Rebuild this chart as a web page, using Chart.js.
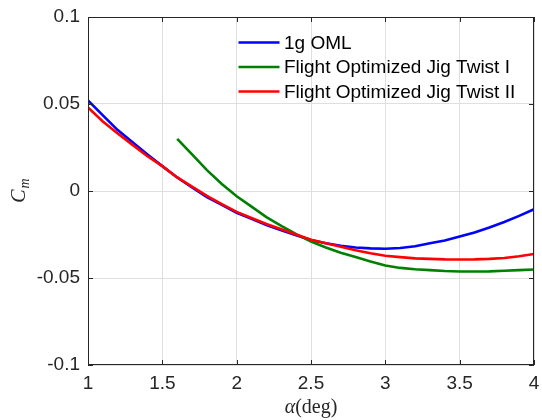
<!DOCTYPE html>
<html><head><meta charset="utf-8">
<script src="https://cdn.jsdelivr.net/npm/chart.js@4.4.1/dist/chart.umd.min.js"></script>
<style>html,body{margin:0;padding:0;background:#fff;}#wrap{width:542px;height:420px;}</style>
</head><body><div id="wrap"><canvas id="c" width="542" height="420"></canvas></div>
<script>
const alphaDeg = [1.0,1.1,1.2,1.3,1.4,1.5,1.6,1.7,1.8,1.9,2.0,2.1,2.2,2.3,2.4,2.5,2.6,2.7,2.8,2.9,3.0,3.1,3.2,3.3,3.4,3.5,3.6,3.7,3.8,3.9,4.0];
const alphaJigI = [1.6,1.7,1.8,1.9,2.0,2.1,2.2,2.3,2.4,2.5,2.6,2.7,2.8,2.9,3.0,3.1,3.2,3.3,3.4,3.5,3.6,3.7,3.8,3.9,4.0];
const cm1gOML = [0.052,0.0435,0.035,0.028,0.021,0.0143,0.0078,0.002,-0.0035,-0.008,-0.0125,-0.016,-0.0195,-0.0225,-0.0255,-0.0282,-0.030,-0.0315,-0.0325,-0.033,-0.0332,-0.0328,-0.0318,-0.030,-0.0285,-0.0262,-0.0238,-0.021,-0.0178,-0.0143,-0.0105];
const cmJigTwistI = [0.030,0.021,0.012,0.004,-0.003,-0.009,-0.015,-0.020,-0.0248,-0.029,-0.0325,-0.0355,-0.038,-0.0405,-0.0428,-0.0442,-0.0450,-0.0455,-0.0460,-0.0463,-0.0463,-0.0462,-0.0458,-0.0455,-0.0451];
const cmJigTwistII = [0.048,0.040,0.033,0.0265,0.020,0.0143,0.0078,0.0025,-0.0028,-0.0075,-0.012,-0.0155,-0.019,-0.022,-0.025,-0.028,-0.030,-0.032,-0.034,-0.0358,-0.0372,-0.038,-0.0387,-0.039,-0.0393,-0.0394,-0.0393,-0.039,-0.0385,-0.0375,-0.0362];
const seriesNames = ['1g OML','Flight Optimized Jig Twist I','Flight Optimized Jig Twist II'];
const seriesColors = ['#0000ff','#008000','#ff0000'];
const xTickValues = [1,1.5,2,2.5,3,3.5,4];
const xTickLabels = ['1','1.5','2','2.5','3','3.5','4'];
const yTickValues = [-0.1,-0.05,0,0.05,0.1];
const yTickLabels = ['-0.1','-0.05','0','0.05','0.1'];

function pts(xs, ys){ return xs.map((x,i)=>({x:x,y:ys[i]})); }
function lbl(vals, labels, v){ const i = vals.findIndex(t=>Math.abs(t-v)<1e-9); return i<0?'':labels[i]; }

const AXC = '#262626';
const LW = 2.6;

const framePlugin = {
  id:'frame',
  afterDraw(chart){
    const ctx = chart.ctx, a = chart.chartArea;
    const xs = chart.scales.x, ys = chart.scales.y;
    ctx.save();
    ctx.strokeStyle = AXC; ctx.lineWidth = 1;
    ctx.strokeRect(Math.round(a.left)+0.5, Math.round(a.top)+0.5, Math.round(a.right-a.left)-1, Math.round(a.bottom-a.top)-1);
    const tl = 5;
    ctx.beginPath();
    xTickValues.forEach(v=>{
      const px = Math.round(xs.getPixelForValue(v))+0.5;
      ctx.moveTo(px, a.bottom); ctx.lineTo(px, a.bottom-tl);
      ctx.moveTo(px, a.top); ctx.lineTo(px, a.top+tl);
    });
    yTickValues.forEach(v=>{
      const py = Math.round(ys.getPixelForValue(v))+0.5;
      ctx.moveTo(a.left, py); ctx.lineTo(a.left+tl, py);
      ctx.moveTo(a.right, py); ctx.lineTo(a.right-tl, py);
    });
    ctx.stroke();

    // legend
    ctx.font = '19px "Liberation Sans", Arial, sans-serif';
    ctx.textBaseline = 'middle'; ctx.textAlign = 'left';
    chart.data.datasets.forEach((ds,i)=>{
      const y = a.top + 25.5 + i*24.5;
      const x0 = a.left + 150.5;
      ctx.strokeStyle = ds.borderColor; ctx.lineWidth = LW;
      ctx.beginPath(); ctx.moveTo(x0, y); ctx.lineTo(x0+41, y); ctx.stroke();
      ctx.fillStyle = '#000';
      ctx.fillText(ds.label, x0+45.5, y+1);
    });

    // x title: α(deg)
    const f1 = 'italic 20px "Liberation Serif", "DejaVu Serif", serif';
    const f2 = '20px "Liberation Serif", "DejaVu Serif", serif';
    ctx.fillStyle = AXC;
    ctx.font = f1; const w1 = ctx.measureText('α').width;
    ctx.font = f2; const w2 = ctx.measureText('(deg)').width;
    const cx = (a.left + a.right)/2;
    let sx = cx - (w1+w2)/2;
    ctx.textBaseline = 'alphabetic';
    ctx.font = f1; ctx.fillText('α', sx, 413);
    ctx.font = f2; ctx.fillText('(deg)', sx + w1, 413);

    // y title: C_m
    ctx.translate(25, (a.top+a.bottom)/2);
    ctx.rotate(-Math.PI/2);
    const fc = 'italic 20px "Liberation Serif", "DejaVu Serif", serif';
    const fm = 'italic 14px "Liberation Serif", "DejaVu Serif", serif';
    ctx.font = fc; const wc = ctx.measureText('C').width;
    ctx.font = fm; const wm = ctx.measureText('m').width;
    let yx = -(wc+wm)/2;
    ctx.font = fc; ctx.fillText('C', yx, 0);
    ctx.font = fm; ctx.fillText('m', yx + wc + 1, 4);
    ctx.restore();
  }
};

const tickFont = {family:'"Liberation Sans", Arial, sans-serif', size:19};

new Chart(document.getElementById('c'), {
  type:'line',
  data:{
    datasets:[
      {label:seriesNames[0], data:pts(alphaDeg, cm1gOML), borderColor:seriesColors[0], order:3},
      {label:seriesNames[1], data:pts(alphaJigI, cmJigTwistI), borderColor:seriesColors[1], order:2},
      {label:seriesNames[2], data:pts(alphaDeg, cmJigTwistII), borderColor:seriesColors[2], order:1}
    ].map(d=>Object.assign(d,{borderWidth:LW, pointRadius:0, pointHoverRadius:0, fill:false, tension:0, backgroundColor:d.borderColor}))
  },
  options:{
    responsive:false, animation:false, devicePixelRatio:1,
    layout:{padding:{top:17, right:8, left:0, bottom:0}},
    plugins:{legend:{display:false}, tooltip:{enabled:false}},
    scales:{
      x:{
        type:'linear', min:1, max:4,
        afterBuildTicks(s){ s.ticks = xTickValues.map(v=>({value:v})); },
        afterFit(s){ s.height = 55; s.paddingLeft = 0; s.paddingRight = 0; },
        grid:{color:'#dfdfdf', lineWidth:1, drawTicks:false},
        border:{display:false},
        ticks:{padding:7, color:AXC, font:tickFont, maxRotation:0, autoSkip:false,
          callback:(v)=>lbl(xTickValues, xTickLabels, v)}
      },
      y:{
        type:'linear', min:-0.1, max:0.1,
        afterBuildTicks(s){ s.ticks = yTickValues.map(v=>({value:v})); },
        afterFit(s){ s.width = 88; s.paddingTop = 0; s.paddingBottom = 0; },
        grid:{color:'#dfdfdf', lineWidth:1, drawTicks:false},
        border:{display:false},
        ticks:{padding:8, color:AXC, font:tickFont, autoSkip:false,
          callback:(v)=>lbl(yTickValues, yTickLabels, v)}
      }
    }
  },
  plugins:[framePlugin]
});
</script></body></html>
